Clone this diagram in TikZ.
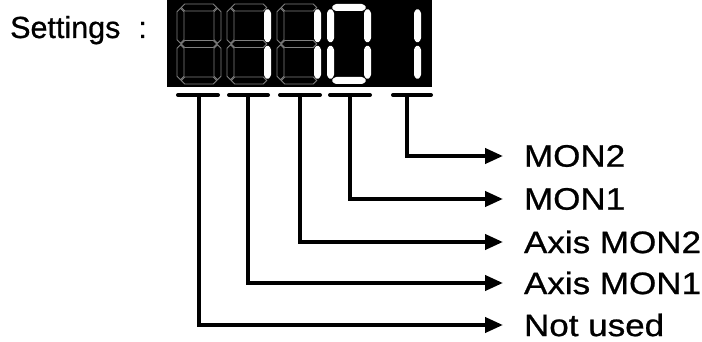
\documentclass[tikz,border=0pt]{standalone}
\usepackage{fontspec}
\setmainfont{Liberation Sans}[FakeBold=0.8]
\newfontfamily\lblfont[FakeStretch=1.13,FakeBold=0.8]{Liberation Sans}
\usetikzlibrary{arrows.meta,positioning,calc}

% segment helpers (x0 = left edge of the digit)
\newcommand{\hseg}[4]{\path[#1] (#2,#4) -- (#2+3.5,#4-3.5) -- (#3-3.5,#4-3.5) -- (#3,#4) -- (#3-3.5,#4+3.5) -- (#2+3.5,#4+3.5) -- cycle;}
\newcommand{\vseg}[4]{\path[#1] (#2,#3) -- (#2+3.5,#3+3.5) -- (#2+3.5,#4-3.5) -- (#2,#4) -- (#2-3.5,#4-3.5) -- (#2-3.5,#3+3.5) -- cycle;}
\newcommand{\sega}[2]{\hseg{#1}{#2+4.3}{#2+39.7}{7.5}}
\newcommand{\segg}[2]{\hseg{#1}{#2+4.3}{#2+39.7}{44}}
\newcommand{\segd}[2]{\hseg{#1}{#2+4.3}{#2+39.7}{80.5}}
\newcommand{\segf}[2]{\vseg{#1}{#2+3.5}{8.3}{43.2}}
\newcommand{\segb}[2]{\vseg{#1}{#2+40.5}{8.3}{43.2}}
\newcommand{\sege}[2]{\vseg{#1}{#2+3.5}{44.8}{79.7}}
\newcommand{\segc}[2]{\vseg{#1}{#2+40.5}{44.8}{79.7}}

\tikzset{
  unlit/.style={draw=gray, line width=0.8pt},
  lit/.style={fill=white, rounded corners=1.5pt},
  bar/.style={line width=4pt, line cap=round},
  wire/.style={line width=4pt, -{Triangle[length=18pt,width=15pt]}},
  lbl/.style={anchor=west, inner xsep=21pt, inner ysep=0pt, outer sep=0pt,
    font=\lblfont\fontsize{31}{37}\selectfont}
}

\begin{document}
\begin{tikzpicture}[x=1pt, y=-1pt]
        \useasboundingbox (0,0) rectangle (702,342);

        % Title
        \node[anchor=base west, inner sep=0pt, font=\fontsize{30.5}{36}\selectfont] (title) at (10,38) {Settings\hspace{18pt}:};

        % Display
        \fill[black] (167,0) rectangle (432,87);
        \foreach \s in {a,b,c,d,e,f,g} \csname seg\s\endcsname{unlit}{177};
        \foreach \x in {227,277} {
            \foreach \s in {a,d,e,f,g} \csname seg\s\endcsname{unlit}{\x};
            \foreach \s in {b,c} \csname seg\s\endcsname{lit}{\x};
        }
        \foreach \s in {a,b,c,d,e,f} \csname seg\s\endcsname{lit}{327};
        \foreach \s in {b,c} \csname seg\s\endcsname{lit}{377};

        % Digit marks
        \draw[bar] (178,95) -- (218,95);
        \draw[bar] (229,95) -- (268,95);
        \draw[bar] (280,95) -- (320,95);
        \draw[bar] (330,95) -- (370,95);
        \draw[bar] (393,95) -- (431,95);
        \coordinate (d1) at (199,95);
        \coordinate (d2) at (248,95);
        \coordinate (d3) at (300,95);
        \coordinate (d4) at (350,95);
        \coordinate (d5) at (407,95);

        % Labels
        \node[lbl] (mon2)  at (503,156) {MON2};
        \node[lbl] (mon1)  at (503,199) {MON1};
        \node[lbl] (axis2) at (503,242) {Axis MON2};
        \node[lbl] (axis1) at (503,283) {Axis MON1};
        \node[lbl] (nu)    at (503,325) {Not used};

        % Links
        \draw[wire] (d5) |- (mon2.west);
        \draw[wire] (d4) |- (mon1.west);
        \draw[wire] (d3) |- (axis2.west);
        \draw[wire] (d2) |- (axis1.west);
        \draw[wire] (d1) |- (nu.west);
\end{tikzpicture}
\end{document}
